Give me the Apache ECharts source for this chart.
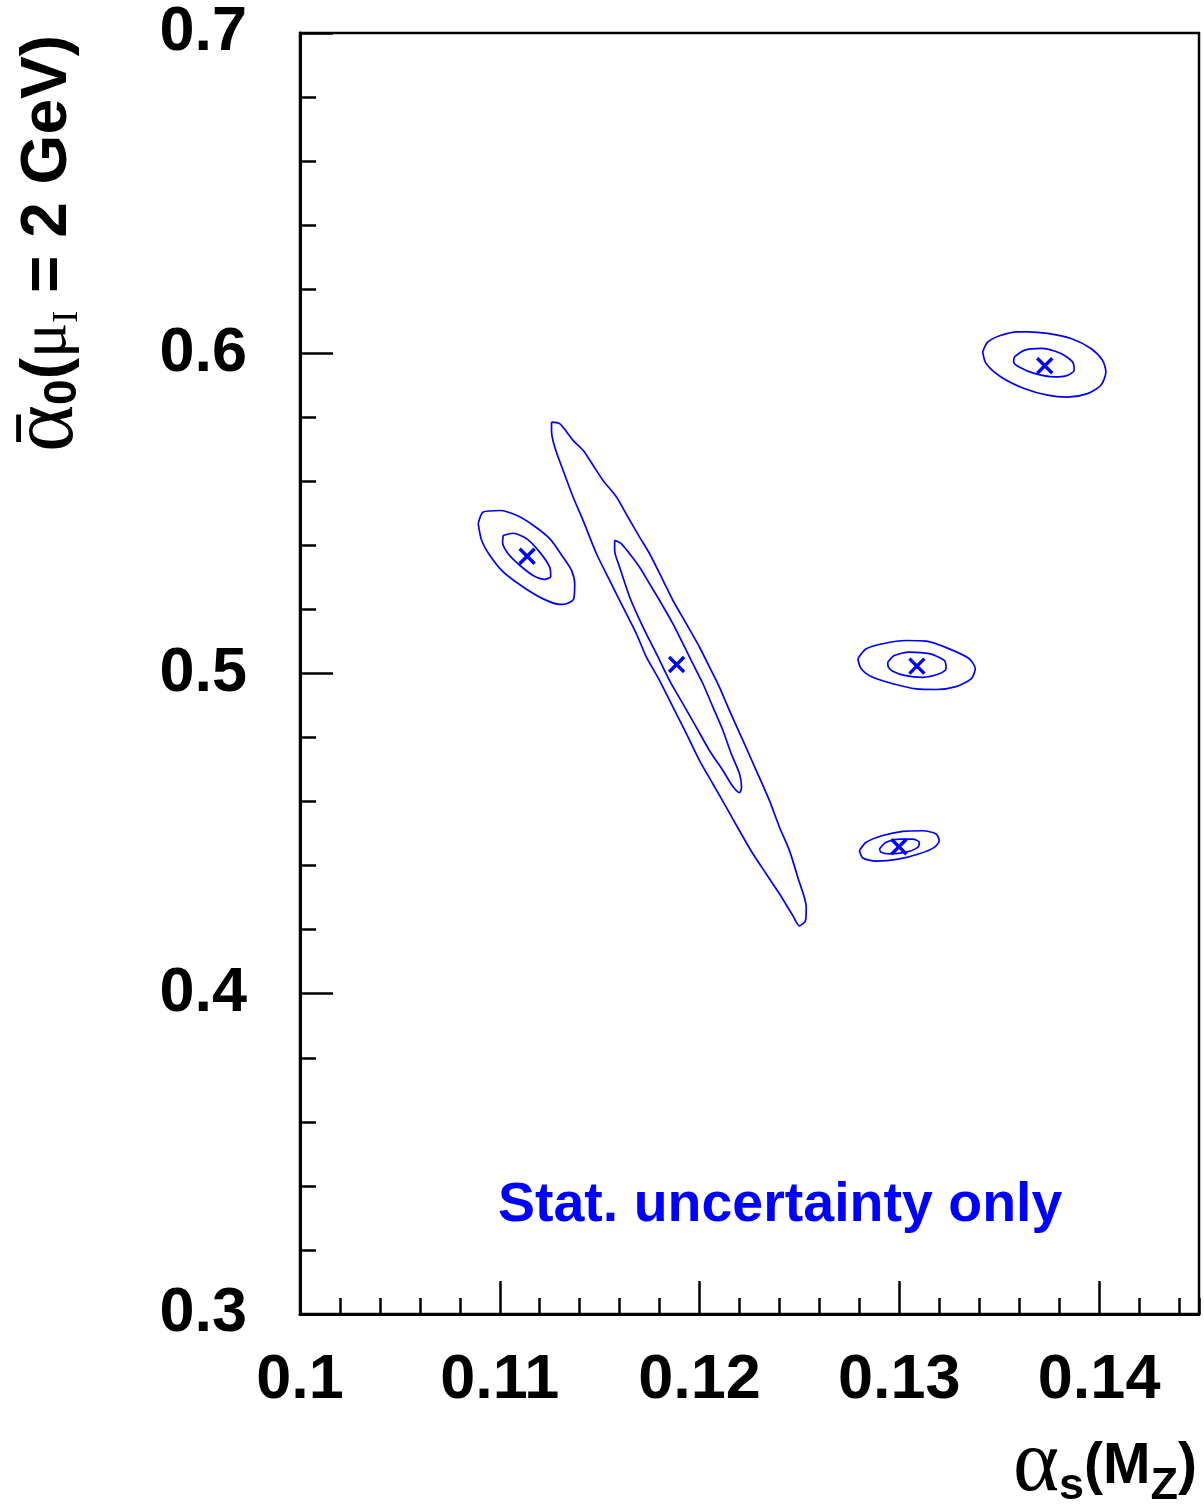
<!DOCTYPE html>
<html><head><meta charset="utf-8">
<script src="https://cdn.jsdelivr.net/npm/echarts@6/dist/echarts.min.js"></script>
<style>html,body{margin:0;padding:0;background:#fff}#c{width:1204px;height:1509px}</style>
</head><body><div id="c"></div>
<script>
// ---- data ----
const xTickLabels = [0.1, 0.11, 0.12, 0.13, 0.14];
const yTickLabels = [0.3, 0.4, 0.5, 0.6, 0.7];

// best-fit points (alpha_s, alpha_0)
const fitCentres = [[0.11885,0.5028],[0.11137,0.5366],[0.13728,0.5961],[0.13088,0.5023],[0.12998,0.4459]];

// contour A (long diagonal)
const longOuter = [[0.11259,0.5785],[0.11300,0.5780],[0.11367,0.5728],[0.11417,0.5697],[0.11467,0.5650],[0.11517,0.5603],[0.11584,0.5551],[0.11642,0.5488],[0.11700,0.5426],[0.11750,0.5374],[0.11817,0.5291],[0.11867,0.5228],[0.11934,0.5155],[0.12000,0.5082],[0.12050,0.5020],[0.12100,0.4957],[0.12150,0.4884],[0.12217,0.4791],[0.12284,0.4697],[0.12350,0.4603],[0.12400,0.4520],[0.12450,0.4447],[0.12492,0.4363],[0.12534,0.4270],[0.12530,0.4228],[0.12500,0.4212],[0.12467,0.4244],[0.12400,0.4312],[0.12334,0.4374],[0.12267,0.4437],[0.12200,0.4509],[0.12134,0.4582],[0.12067,0.4655],[0.12000,0.4728],[0.11934,0.4812],[0.11867,0.4895],[0.11800,0.4978],[0.11734,0.5051],[0.11684,0.5124],[0.11617,0.5207],[0.11550,0.5291],[0.11484,0.5374],[0.11417,0.5478],[0.11367,0.5551],[0.11317,0.5634],[0.11275,0.5707],[0.11259,0.5759]];
const longInner = [[0.11575,0.5416],[0.11609,0.5405],[0.11650,0.5374],[0.11700,0.5332],[0.11750,0.5280],[0.11800,0.5228],[0.11867,0.5155],[0.11917,0.5093],[0.11967,0.5030],[0.12017,0.4968],[0.12067,0.4895],[0.12117,0.4822],[0.12159,0.4749],[0.12200,0.4687],[0.12210,0.4645],[0.12200,0.4628],[0.12167,0.4647],[0.12117,0.4697],[0.12050,0.4759],[0.11984,0.4832],[0.11917,0.4905],[0.11850,0.4978],[0.11784,0.5062],[0.11717,0.5145],[0.11650,0.5239],[0.11600,0.5332],[0.11575,0.5384]];

// contour B (left)
const leftOuter = [[0.10892,0.5468],[0.10917,0.5504],[0.11000,0.5509],[0.11084,0.5494],[0.11167,0.5463],[0.11250,0.5421],[0.11317,0.5363],[0.11359,0.5322],[0.11375,0.5280],[0.11370,0.5233],[0.11334,0.5218],[0.11300,0.5216],[0.11217,0.5233],[0.11117,0.5270],[0.11017,0.5317],[0.10950,0.5369],[0.10909,0.5416]];
const leftInner = [[0.11017,0.5431],[0.11067,0.5438],[0.11134,0.5421],[0.11200,0.5379],[0.11250,0.5332],[0.11255,0.5303],[0.11225,0.5294],[0.11167,0.5306],[0.11100,0.5338],[0.11042,0.5374],[0.11014,0.5410]];

// contour C (top right)
const topRightOuter = [[0.13417,0.6004],[0.13442,0.6035],[0.13509,0.6056],[0.13592,0.6067],[0.13642,0.6067],[0.13742,0.6062],[0.13859,0.6046],[0.13959,0.6015],[0.14017,0.5978],[0.14034,0.5942],[0.14009,0.5900],[0.13942,0.5874],[0.13842,0.5863],[0.13742,0.5869],[0.13625,0.5890],[0.13509,0.5926],[0.13434,0.5968]];
const topRightInner = [[0.13575,0.5988],[0.13625,0.6009],[0.13709,0.6015],[0.13809,0.5999],[0.13867,0.5973],[0.13875,0.5947],[0.13842,0.5931],[0.13775,0.5926],[0.13675,0.5937],[0.13600,0.5957],[0.13572,0.5973]];

// contour D (middle right)
const midRightOuter = [[0.12792,0.5046],[0.12834,0.5077],[0.12917,0.5093],[0.13034,0.5103],[0.13134,0.5101],[0.13250,0.5077],[0.13350,0.5046],[0.13380,0.5015],[0.13359,0.4983],[0.13284,0.4959],[0.13184,0.4950],[0.13084,0.4952],[0.12967,0.4968],[0.12867,0.4988],[0.12809,0.5015]];
const midRightInner = [[0.12942,0.5035],[0.12975,0.5056],[0.13050,0.5067],[0.13150,0.5062],[0.13225,0.5041],[0.13234,0.5015],[0.13200,0.4999],[0.13117,0.4988],[0.13025,0.4994],[0.12967,0.5007],[0.12945,0.5020]];

// contour E (lower)
const lowerOuter = [[0.12800,0.4447],[0.12834,0.4473],[0.12917,0.4494],[0.13017,0.4507],[0.13117,0.4509],[0.13184,0.4499],[0.13200,0.4478],[0.13175,0.4457],[0.13100,0.4437],[0.13000,0.4421],[0.12884,0.4414],[0.12817,0.4424]];
const lowerInner = [[0.12900,0.4452],[0.12934,0.4473],[0.13000,0.4483],[0.13067,0.4483],[0.13100,0.4473],[0.13092,0.4457],[0.13034,0.4442],[0.12950,0.4437],[0.12909,0.4442]];

const contours = [longOuter, longInner, leftOuter, leftInner, topRightOuter, topRightInner, midRightOuter, midRightInner, lowerOuter, lowerInner];

// ---- chart ----
const BLUE = '#0000ff';
const SANS = '"Liberation Sans", Arial, Helvetica, sans-serif';
const SERIF = '"Liberation Serif", "DejaVu Serif", "Times New Roman", serif';
const near = (list, v) => list.find(t => Math.abs(t - v) < 1e-9);

const series = contours.map(c => ({
  type: 'line', xAxisIndex: 0, yAxisIndex: 0,
  data: c.concat([c[0]]), showSymbol: false, symbol: 'none', smooth: 0.25,
  lineStyle: { color: BLUE, width: 1.7 }, silent: true
}));
series.push({
  type: 'scatter', xAxisIndex: 0, yAxisIndex: 0, data: fitCentres,
  symbol: 'path://M0,0L14,14M14,0L0,14', symbolSize: 15,
  itemStyle: { color: 'none', borderColor: BLUE, borderWidth: 3.4, opacity: 1 }, silent: true
});

const tickLabelStyle = { fontSize: 63, fontWeight: 'bold', color: '#000', fontFamily: SANS };

const option = {
  animation: false,
  backgroundColor: '#fff',
  grid: { left: 300, top: 33, width: 899, height: 1281, show: true, borderColor: '#000', borderWidth: 2.5, backgroundColor: 'transparent' },
  xAxis: [
    { type: 'value', min: 0.1, max: 0.145, interval: 0.01, position: 'bottom',
      axisLine: { show: true, onZero: false, lineStyle: { color: '#000', width: 3 } },
      axisTick: { show: true, inside: true, length: 33, lineStyle: { color: '#000', width: 2.5 } },
      axisLabel: Object.assign({ margin: 35, showMaxLabel: false,
        formatter: v => { const t = near(xTickLabels, v); return t === undefined ? '' : String(t); } }, tickLabelStyle),
      splitLine: { show: false } },
    { type: 'value', min: 0.1, max: 0.145, interval: 0.002, position: 'bottom',
      axisLine: { show: false },
      axisTick: { show: true, inside: true, length: 16, lineStyle: { color: '#000', width: 2.5 } },
      axisLabel: { show: false }, splitLine: { show: false } }
  ],
  yAxis: [
    { type: 'value', min: 0.3, max: 0.7, interval: 0.1, position: 'left',
      axisLine: { show: true, onZero: false, lineStyle: { color: '#000', width: 3 } },
      axisTick: { show: true, inside: true, length: 33, lineStyle: { color: '#000', width: 2.5 } },
      minorTick: { show: true, splitNumber: 5, length: 16, lineStyle: { color: '#000', width: 2.5 } },
      axisLabel: Object.assign({ margin: 53,
        formatter: v => { const t = near(yTickLabels, v); return t === undefined ? '' : String(t); } }, tickLabelStyle),
      splitLine: { show: false }, minorSplitLine: { show: false } }
  ],
  graphic: [
    { type: 'text', x: 498, y: 1206, silent: true,
      style: { text: 'Stat. uncertainty only', fill: BLUE, fontSize: 55.5, fontWeight: 'bold', fontFamily: SANS, align: 'left', verticalAlign: 'middle' } },
    { type: 'text', x: 1197, y: 1467, silent: true,
      style: { text: '{a|α}{s|s}{b|(M}{s|Z}{b|)}', align: 'right', verticalAlign: 'middle', fill: '#000',
        rich: {
          a: { fontSize: 88, fontFamily: SERIF, fontWeight: 'normal', lineHeight: 84, fill: '#000' },
          b: { fontSize: 57, fontFamily: SANS, fontWeight: 'bold', lineHeight: 84, fill: '#000' },
          s: { fontSize: 45, fontFamily: SANS, fontWeight: 'bold', verticalAlign: 'bottom', fill: '#000' }
        } } },
    { type: 'text', x: 48, y: 35, rotation: Math.PI / 2, silent: true,
      style: { text: '{a|ᾱ}{s|0}{b|(}{m|μ}{i|I}{b| = 2 GeV)}', align: 'right', verticalAlign: 'middle', fill: '#000',
        rich: {
          a: { fontSize: 90, fontFamily: SERIF, fontWeight: 'normal', lineHeight: 76, fill: '#000' },
          b: { fontSize: 64, fontFamily: SANS, fontWeight: 'bold', lineHeight: 76, fill: '#000' },
          m: { fontSize: 66, fontFamily: SERIF, fontWeight: 'normal', lineHeight: 76, fill: '#000' },
          s: { fontSize: 46, fontFamily: SANS, fontWeight: 'bold', verticalAlign: 'bottom', fill: '#000' },
          i: { fontSize: 36, fontFamily: SERIF, fontWeight: 'normal', verticalAlign: 'bottom', fill: '#000' }
        } } }
  ],
  series: series
};
const chart = echarts.init(document.getElementById('c'), null, { renderer: 'canvas' });
chart.setOption(option);
</script>
</body></html>
